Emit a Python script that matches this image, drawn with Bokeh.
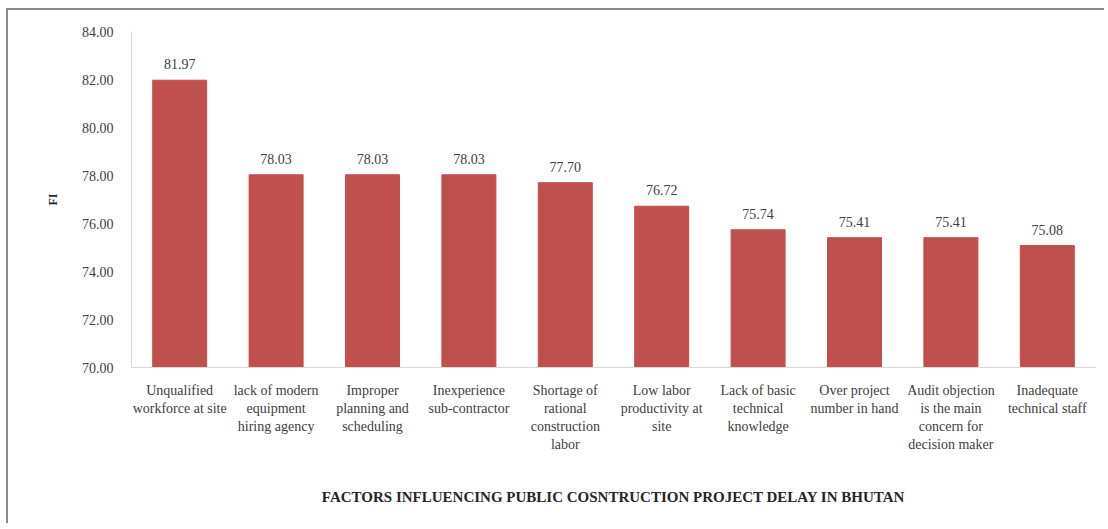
from bokeh.plotting import figure
from bokeh.models import ColumnDataSource, Range1d, LabelSet, NumeralTickFormatter, FixedTicker
from bokeh.embed import file_html
from bokeh.resources import INLINE

factors = [
    "Unqualified\nworkforce at site",
    "lack of modern\nequipment\nhiring agency",
    "Improper\nplanning and\nscheduling",
    "Inexperience\nsub-contractor",
    "Shortage of\nrational\nconstruction\nlabor",
    "Low labor\nproductivity at\nsite",
    "Lack of basic\ntechnical\nknowledge",
    "Over project\nnumber in hand",
    "Audit objection\nis the main\nconcern for\ndecision maker",
    "Inadequate\ntechnical staff",
]
fi_values = [81.97, 78.03, 78.03, 78.03, 77.70, 76.72, 75.74, 75.41, 75.41, 75.08]
y_ticks = [70, 72, 74, 76, 78, 80, 82, 84]

FONT = "'Liberation Serif', 'Times New Roman', serif"
TXT = "#404040"

src = ColumnDataSource(dict(
    x=factors,
    top=fi_values,
    lbl=[f"{v:.2f}" for v in fi_values],
))

p = figure(
    x_range=factors,
    y_range=Range1d(70, 84),
    width=1098, height=515,
    output_backend="svg", toolbar_location=None,
    min_border_left=123, min_border_right=11, min_border_top=21, min_border_bottom=158,
)
p.margin = (8, 0, 0, 6)
p.styles = {"border-top": "2px solid #8a8a8a", "border-left": "2px solid #8a8a8a"}

p.vbar(x="x", top="top", bottom=70, width=0.56, source=src,
       fill_color="#C0504D", line_color="#C0504D")

labels = LabelSet(x="x", y="top", text="lbl", source=src, text_align="center",
                  text_baseline="bottom", y_offset=11, text_font=FONT,
                  text_font_size="14px", text_color=TXT)
p.add_layout(labels)

p.outline_line_color = None
p.xgrid.grid_line_color = None
p.ygrid.grid_line_color = None

p.yaxis.ticker = FixedTicker(ticks=y_ticks)
p.yaxis.formatter = NumeralTickFormatter(format="0.00")
p.yaxis.axis_line_color = "#d9d9d9"
p.yaxis.major_tick_line_color = None
p.yaxis.minor_tick_line_color = None
p.yaxis.major_label_text_font = FONT
p.yaxis.major_label_text_font_size = "14px"
p.yaxis.major_label_text_color = TXT
p.yaxis.major_label_standoff = 12
p.yaxis.axis_label = "FI"
p.yaxis.axis_label_text_font = FONT
p.yaxis.axis_label_text_font_style = "bold"
p.yaxis.axis_label_text_font_size = "12px"
p.yaxis.axis_label_text_color = "#262626"
p.yaxis.axis_label_standoff = 19

p.xaxis.axis_line_color = "#d9d9d9"
p.xaxis.major_tick_line_color = None
p.xaxis.minor_tick_line_color = None
p.xaxis.major_label_text_font = FONT
p.xaxis.major_label_text_font_size = "14px"
p.xaxis.major_label_text_color = TXT
p.xaxis.major_label_standoff = 9
p.xaxis.axis_label = "FACTORS INFLUENCING PUBLIC COSNTRUCTION PROJECT DELAY IN BHUTAN"
p.xaxis.axis_label_text_font = FONT
p.xaxis.axis_label_text_font_style = "bold"
p.xaxis.axis_label_text_font_size = "15px"
p.xaxis.axis_label_text_color = "#262626"
p.xaxis.axis_label_standoff = 34

open("out.html", "w").write(file_html(p, INLINE))
